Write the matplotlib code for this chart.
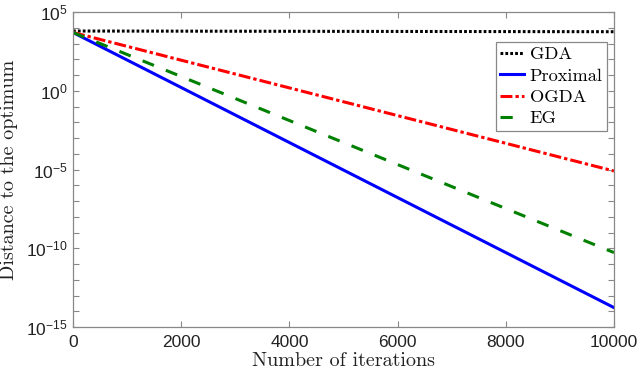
import matplotlib
matplotlib.use("Agg")
import matplotlib.pyplot as plt
from matplotlib.ticker import FixedLocator, FixedFormatter, NullFormatter

# ---- data ----
iterations = [0, 10000]
gda = [6200, 5600]
proximal = [5000, 1.7e-14]
ogda = [5000, 8.0e-6]
eg = [5000, 5.3e-11]

series_names = ["GDA", "Proximal", "OGDA", "EG"]
xticks = [0, 2000, 4000, 6000, 8000, 10000]
xtick_labels = ["0", "2000", "4000", "6000", "8000", "10000"]
ymajor = [1e-15, 1e-10, 1e-5, 1e0, 1e5]
ytick_labels = [r"$10^{-15}$", r"$10^{-10}$", r"$10^{-5}$", r"$10^{0}$", r"$10^{5}$"]
yminor = [10.0 ** k for k in range(-15, 6)]
xlabel = "Number of iterations"
ylabel = "Distance to the optimum"

plt.rcParams["mathtext.fontset"] = "custom"
plt.rcParams["mathtext.rm"] = "Liberation Sans"
plt.rcParams["mathtext.it"] = "Liberation Sans:italic"
plt.rcParams["mathtext.bf"] = "Liberation Sans:bold"
plt.rcParams["font.family"] = ["Liberation Sans", "DejaVu Sans"]

fig = plt.figure(figsize=(6.4, 3.73), dpi=100)
ax = fig.add_axes([73 / 640, 46 / 373, 541 / 640, 315 / 373])

lw = 2.2
ax.plot(iterations, gda, color="black", lw=lw, linestyle=(0, (0.9, 0.7)), label=series_names[0])
ax.plot(iterations, proximal, color="#0000ff", lw=lw, linestyle="-", label=series_names[1])
ax.plot(iterations, ogda, color="#ff0000", lw=lw, linestyle=(0, (3.9, 1.0, 1.1, 1.0)), label=series_names[2])
ax.plot(iterations, eg, color="#008000", lw=lw, linestyle=(0, (4.0, 4.2)), label=series_names[3])

ax.set_yscale("log")
ax.set_xlim(0, 10000)
ax.set_ylim(1e-15, 1e5)

ax.xaxis.set_major_locator(FixedLocator(xticks))
ax.xaxis.set_major_formatter(FixedFormatter(xtick_labels))
ax.xaxis.set_minor_locator(FixedLocator([]))
ax.yaxis.set_major_locator(FixedLocator(ymajor))
ax.yaxis.set_major_formatter(FixedFormatter(ytick_labels))
ax.yaxis.set_minor_locator(FixedLocator(yminor))
ax.yaxis.set_minor_formatter(NullFormatter())

spine_color = "#888888"
for s in ax.spines.values():
    s.set_color(spine_color)
    s.set_linewidth(0.9)
ax.tick_params(which="both", direction="in", top=True, right=True, length=4,
               width=0.8, color=spine_color, labelsize=12.5, labelcolor="#222222")
ax.tick_params(axis="x", pad=6)
ax.tick_params(axis="y", pad=4)

ax.set_xlabel(xlabel, family="cmr10", fontsize=14.5, color="#222222", labelpad=1)
ax.set_ylabel(ylabel, family="cmr10", fontsize=14.5, color="#222222")
ax.yaxis.set_label_coords(-0.102, 0.5)

leg = ax.legend(loc="upper right", bbox_to_anchor=(0.987, 0.905), borderaxespad=0,
                prop={"family": "cmr10", "size": 13.2}, handlelength=1.3,
                handletextpad=0.3, labelspacing=0.3, borderpad=0.25,
                fancybox=False, framealpha=1)
leg.get_frame().set_edgecolor(spine_color)
leg.get_frame().set_linewidth(0.9)

fig.savefig("out.png", dpi=100)
